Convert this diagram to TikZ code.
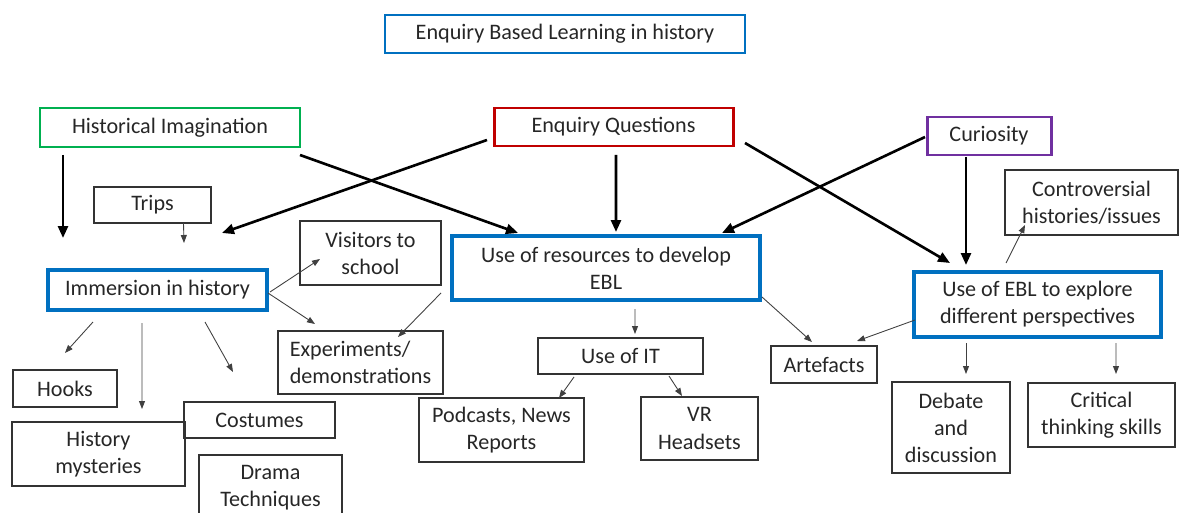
\documentclass[tikz,border=0pt]{standalone}
\usepackage{fontspec}
\setmainfont{Carlito}
\usetikzlibrary{arrows.meta,calc}
\definecolor{eblblue}{RGB}{0,112,192}
\definecolor{eblgreen}{RGB}{0,176,80}
\definecolor{eblred}{RGB}{192,0,0}
\definecolor{eblpurple}{RGB}{112,48,160}

\begin{document}
\begin{tikzpicture}[x=0.02cm, y=-0.02cm,
        every node/.style={font=\fontsize{12.6}{15.4}\selectfont, text=black!85, inner sep=0pt, outer sep=0pt, align=center},
        box/.style 2 args={draw=black!80, line width=0.6pt, minimum width=#1*0.02cm, minimum height=#2*0.02cm},
        keybox/.style={draw=eblblue, line width=2.2pt},
        bigarr/.style={line width=1.5pt, -{Triangle[length=0.24cm, width=0.2cm]}},
        smallarr/.style={line width=0.5pt, draw=black!75, -{Triangle[length=0.16cm, width=0.12cm]}}]
        \useasboundingbox (0,0) rectangle (1179,513);

        \node[box={360}{38}, draw=eblblue, line width=1.5pt] (title) at (565,34) {Enquiry Based Learning in history};
        \node[box={260}{39}, draw=eblgreen, line width=1.7pt] (hi) at (170,127.5) {Historical Imagination};
        \node[box={239}{38}, draw=eblred, line width=1.7pt] (eq) at (613.5,127) {Enquiry Questions};
        \node[box={124}{38}, draw=eblpurple, line width=1.7pt] (cur) at (989,136) {Curiosity};

        \node[box={117}{36}] (trips) at (152.5,205) {Trips};
        \node[box={141}{64}] (vis) at (370.5,253) {Visitors to\\school};
        \node[box={308}{64}, keybox] (res) at (606,268) {Use of resources to develop\\EBL};
        \node[box={173}{65}] (contro) at (1091.5,202.5) {Controversial\\histories/issues};
        \node[box={219}{40}, keybox] (imm) at (157.5,290) {Immersion in history};
        \node[box={247}{65}, keybox] (euse) at (1037.5,304.5) {Use of EBL to explore\\different perspectives};

        \node[box={165}{63}, align=left] (exp) at (360.5,362.5) {Experiments/\\demonstrations};
        \node[box={104}{37}] (hooks) at (65,388.5) {Hooks};
        \node[box={173}{64}] (myst) at (98.5,454) {History\\mysteries};
        \node[box={151}{36}] (cost) at (259.5,420) {Costumes};
        \node[box={143}{65}] (drama) at (270.5,487.5) {Drama\\Techniques};
        \node[box={165}{36}] (it) at (620.5,356) {Use of IT};
        \node[box={165}{64}] (pod) at (501.5,430) {Podcasts, News\\Reports};
        \node[box={117}{63}] (vr) at (699.5,428.5) {VR\\Headsets};
        \node[box={106}{37}] (art) at (824,364.5) {Artefacts};
        \node[box={118}{91}] (deb) at (951,427.5) {Debate\\and\\discussion};
        \node[box={147}{64}] (crit) at (1101.5,415) {Critical\\thinking skills};

        \coordinate (hitip) at (63,238);
        \coordinate (eqtip) at (222,233);
        \coordinate (tripstip) at (184,243);

        \draw[bigarr, shorten <=0.16cm] (hitip |- hi.south) -- (hitip);
        \draw[bigarr] ($(hi.south east)+(0,8)$) -- ($(res.north west)+(66,-3)$);
        \draw[bigarr] ($(eq.south west)+(-7,-6)$) -- (eqtip);
        \draw[bigarr] ($(eq.south)+(2.5,9)$) -- ($(res.north)+(10,-4)$);
        \draw[bigarr] ($(eq.south east)+(12,-3)$) -- ($(euse.north west)+(36,-9)$);
        \draw[bigarr] ($(cur.west)+(-2,1)$) -- ($(res.north east)+(-38,-3)$);
        \draw[bigarr] ($(cur.south)+(-23,2)$) -- ($(euse.north west)+(52,-7)$);

        \draw[smallarr] ($(trips.south)+(31,0)$) -- (tripstip);
        \draw[smallarr] ($(imm.east)+(3,2)$) -- ($(vis.west)+(20,6)$);
        \draw[smallarr] ($(imm.east)+(1,3)$) -- ($(exp.north west)+(37,-7)$);
        \draw[smallarr] ($(vis.south east)+(0,8)$) -- ($(exp.north west)+(120,6)$);
        \draw[smallarr] ($(imm.south west)+(45,12)$) -- ($(hooks.north)+(0,-17)$);
        \draw[smallarr] ($(imm.south west)+(94,13)$) -- ($(myst.north)+(43.5,-13)$);
        \draw[smallarr] ($(imm.south west)+(157,12)$) -- ($(cost.north)+(-26.5,-30)$);
        \draw[smallarr] ($(res.south)+(29,9)$) -- ($(it.north)+(14.5,-4)$);
        \draw[smallarr] ($(it.south west)+(36,3)$) -- ($(pod.north east)+(-25,0)$);
        \draw[smallarr] ($(it.south east)+(-34,2)$) -- ($(vr.north west)+(41,-1)$);
        \draw[smallarr] ($(res.south east)+(2,-3)$) -- ($(art.north west)+(41,-4)$);
        \draw[smallarr] ($(euse.west)+(1,15.5)$) -- ($(art.north east)+(-20,-5)$);
        \draw[smallarr] ($(euse.north west)+(92,-9)$) -- ($(contro.south west)+(20,-10)$);
        \draw[smallarr] ($(euse.south west)+(52,6)$) -- ($(deb.north)+(15,-8)$);
        \draw[smallarr] ($(euse.south west)+(202,6)$) -- ($(crit.north)+(14.5,-9)$);
    \end{tikzpicture}
\end{document}
